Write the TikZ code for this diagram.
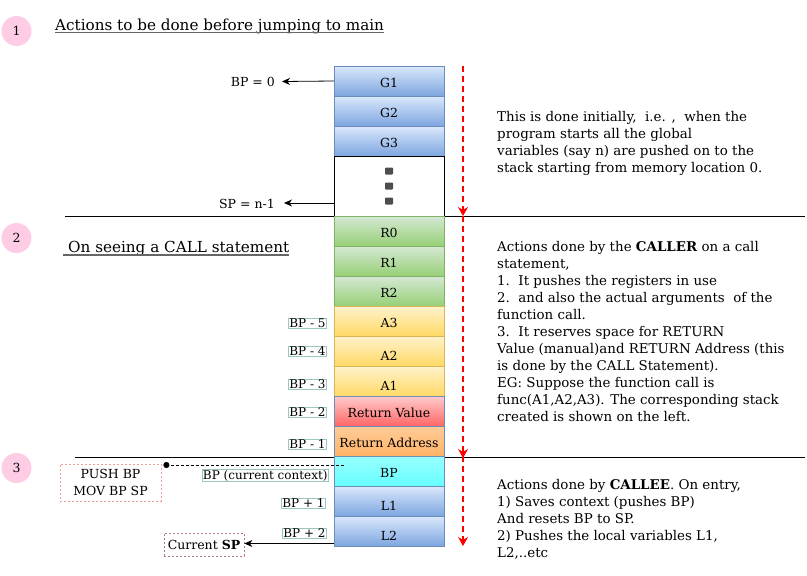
\documentclass[tikz,border=0pt]{standalone}
\usepackage{fontspec}
\setmainfont{DejaVu Serif}
\usepackage{tikz}
\usetikzlibrary{positioning, arrows, arrows.meta}

\definecolor{stepnum}{HTML}{FFCCE6}
\definecolor{blueedge}{HTML}{6C8EBF}
\definecolor{bluetop}{HTML}{DAE8FC}
\definecolor{bluebot}{HTML}{7EA6E0}
\definecolor{greenedge}{HTML}{82B366}
\definecolor{greentop}{HTML}{D5E8D4}
\definecolor{greenbot}{HTML}{97D077}
\definecolor{yellowedge}{HTML}{D6B656}
\definecolor{yellowtop}{HTML}{FFF2CC}
\definecolor{yellowbot}{HTML}{FFD966}
\definecolor{redtop}{HTML}{FFCCCC}
\definecolor{redbot}{HTML}{FF6666}
\definecolor{orangetop}{HTML}{FFCC99}
\definecolor{orangebot}{HTML}{FFB366}
\definecolor{cyantop}{HTML}{99FFFF}
\definecolor{cyanbot}{HTML}{66FFFF}
\definecolor{dotgrey}{HTML}{4D4D4D}
\definecolor{offsetedge}{HTML}{9AC7BF}
\definecolor{notepink}{HTML}{F19C99}
\definecolor{notepurple}{HTML}{B5739D}
\definecolor{rulegrey}{HTML}{666666}

\begin{document}
\begin{tikzpicture}[x=1pt, y=-1pt,
    font=\fontsize{12.5}{17}\selectfont,
    cell/.style={draw, line width=1pt, minimum width=110pt, minimum height=30pt,
      inner sep=0pt, outer sep=0pt, text height=13pt, text depth=0pt},
    lowered/.style={text height=18pt},
    glob/.style={cell, draw=blueedge, top color=bluetop, bottom color=bluebot},
    reg/.style={cell, draw=greenedge, top color=greentop, bottom color=greenbot},
    arg/.style={cell, draw=yellowedge, top color=yellowtop, bottom color=yellowbot},
    retval/.style={cell, draw=blueedge, top color=redtop, bottom color=redbot},
    retaddr/.style={cell, draw=blueedge, top color=orangetop, bottom color=orangebot},
    saved/.style={cell, draw=blueedge, top color=cyantop, bottom color=cyanbot},
    stepmark/.style={circle, fill=stepnum, minimum size=30pt, inner sep=0pt},
    heading/.style={font=\fontsize{15.2}{17}\selectfont, inner sep=0pt, anchor=base west},
    rule/.style={draw=rulegrey, line width=1.5pt},
    offset/.style={draw=offsetedge, line width=0.8pt, inner xsep=1pt, inner ysep=0.5pt,
      anchor=east, font=\fontsize{12}{14}\selectfont},
    note/.style={dash pattern=on 2pt off 2pt, line width=0.8pt, align=center},
    explain/.style={align=left, anchor=north west, inner sep=0pt,
      font=\fontsize{13.4}{17}\selectfont},
    pointer/.style={line width=0.8pt, -{Stealth[length=8pt, width=7pt, inset=2.5pt]}},
    flow/.style={draw=red, line width=1.6pt, dash pattern=on 6pt off 4pt,
      -{Stealth[length=9pt, width=10pt, inset=3pt]}},
    ctxlink/.style={line width=0.8pt, dash pattern=on 3pt off 2pt,
      -{Circle[length=6pt]}}]

  \useasboundingbox (0,0) rectangle (807,576);

  % separators
  \draw[line width=1pt] (65,216) -- (805,216);
  \draw[line width=1pt] (75,457) -- (805,457);

  % step 1
  \node[stepmark] (s1) at (16.5,31) {1};
  \node[heading] (h1) at (55,30) {Actions to be done before jumping to main};
  \draw[rule] ([yshift=-2.5pt]h1.base west) -- ([yshift=-2.5pt]h1.base east);

  \node[glob] (g1) at (389,81) {G1};
  \node[glob, below=0pt of g1] (g2) {G2};
  \node[glob, below=0pt of g2] (g3) {G3};
  \node[cell, fill=white, minimum height=60pt, below=0pt of g3] (dots) {};
  \foreach \k in {-15,0,15}
    \fill[dotgrey, rounded corners=0.8pt] ([yshift=\k pt]dots.center) ++(-4,-3.5) rectangle ++(8,7);

  \node[anchor=east, inner sep=0pt] (bp0) at (275,81.5) {BP = 0};
  \draw[pointer] (g1.west) -- ([xshift=7pt]bp0.east);
  \node[anchor=east, inner sep=0pt] (spn) at (275,204) {SP = n-1};
  \coordinate (spfrom) at ([yshift=-17pt]dots.west);
  \draw[pointer] (spfrom) -- ([xshift=9pt]spn.east |- spfrom);

  \node[explain] (t1) at (497,111.5) {This is done initially,\ \ i.e. ,\ \ when the\\
    program starts all the global\\
    variables (say n) are pushed on to the\\
    stack starting from memory location 0.};

  % step 2
  \node[stepmark] (s2) at (16.5,238) {2};
  \node[heading] (h2) at (68,252.5) {On seeing a CALL statement};
  \draw[rule] ([xshift=-5pt, yshift=-2.5pt]h2.base west) -- ([yshift=-2.5pt]h2.base east);

  \node[reg, below=0pt of dots] (r0) {R0};
  \node[reg, below=0pt of r0] (r1) {R1};
  \node[reg, below=0pt of r1] (r2) {R2};
  \node[arg, below=0pt of r2] (a3) {A3};
  \node[arg, lowered, below=0pt of a3] (a2) {A2};
  \node[arg, lowered, below=0pt of a2] (a1) {A1};
  \node[retval, below=0pt of a1] (rv) {Return Value};
  \node[retaddr, below=0pt of rv] (ra) {Return Address};

  \node[offset] (bpm5) at (327,323) {BP - 5};
  \node[offset] (bpm4) at (327,351.5) {BP - 4};
  \node[offset] (bpm3) at (327,384) {BP - 3};
  \node[offset] (bpm2) at (327,412) {BP - 2};
  \node[offset] (bpm1) at (327,444) {BP - 1};

  \node[explain] (t2) at (497,241) {Actions done by the \textbf{CALLER} on a call\\
    statement,\\
    1.\ \ It pushes the registers in use\\
    2.\ \ and also the actual arguments\ \ of the\\
    function call.\\
    3.\ \ It reserves space for RETURN\\
    Value (manual)and RETURN Address (this\\
    is done by the CALL Statement).\\
    EG: Suppose the function call is\\
    func(A1,A2,A3). The corresponding stack\\
    created is shown on the left.};

  % step 3
  \node[stepmark] (s3) at (16.5,468) {3};
  \node[saved, below=0pt of ra] (bp) {BP};
  \node[glob, lowered, below=0pt of bp] (l1) {L1};
  \node[glob, lowered, below=0pt of l1] (l2) {L2};

  \node[offset] (bpcur) at (329,475.5) {BP (current context)};
  \node[offset] (bpp1) at (326,503.5) {BP + 1};
  \node[offset] (bpp2) at (327,533) {BP + 2};

  \node[note, draw=notepink, minimum width=101pt, minimum height=37pt] (push) at (110.5,482.5)
    {PUSH BP\\MOV BP SP};
  \coordinate (ctx) at ([xshift=10pt, yshift=-9pt]bp.north west);
  \draw[ctxlink] (ctx) -- ([xshift=2pt]push.north east |- ctx);

  \node[note, draw=notepurple, minimum width=80pt, minimum height=23pt] (cursp) at (204,544.5)
    {Current \textbf{SP}};
  \coordinate (lsp) at ([yshift=-12.5pt]l2.west);
  \draw[pointer] (lsp) -- (cursp.east |- lsp);

  \node[explain] (t3) at (497,479) {Actions done by \textbf{CALLEE}. On entry,\\
    1) Saves context (pushes BP)\\
    And resets BP to SP.\\
    2) Pushes the local variables L1,\\
    L2,..etc};

  % flow of the stack
  \coordinate (f1a) at ([xshift=19pt]g1.north east);
  \coordinate (f1b) at ([xshift=19pt]dots.south east);
  \coordinate (f2a) at ([xshift=19pt]r0.north east);
  \coordinate (f2b) at ([xshift=19pt, yshift=-2pt]ra.south east);
  \coordinate (f3a) at ([xshift=19pt]bp.north east);
  \coordinate (f3b) at ([xshift=19pt]l2.south east);
  \draw[flow] (f1a) -- (f1b);
  \draw[flow] (f2a) -- (f2b);
  \draw[flow] (f3a) -- (f3b);
\end{tikzpicture}
\end{document}
